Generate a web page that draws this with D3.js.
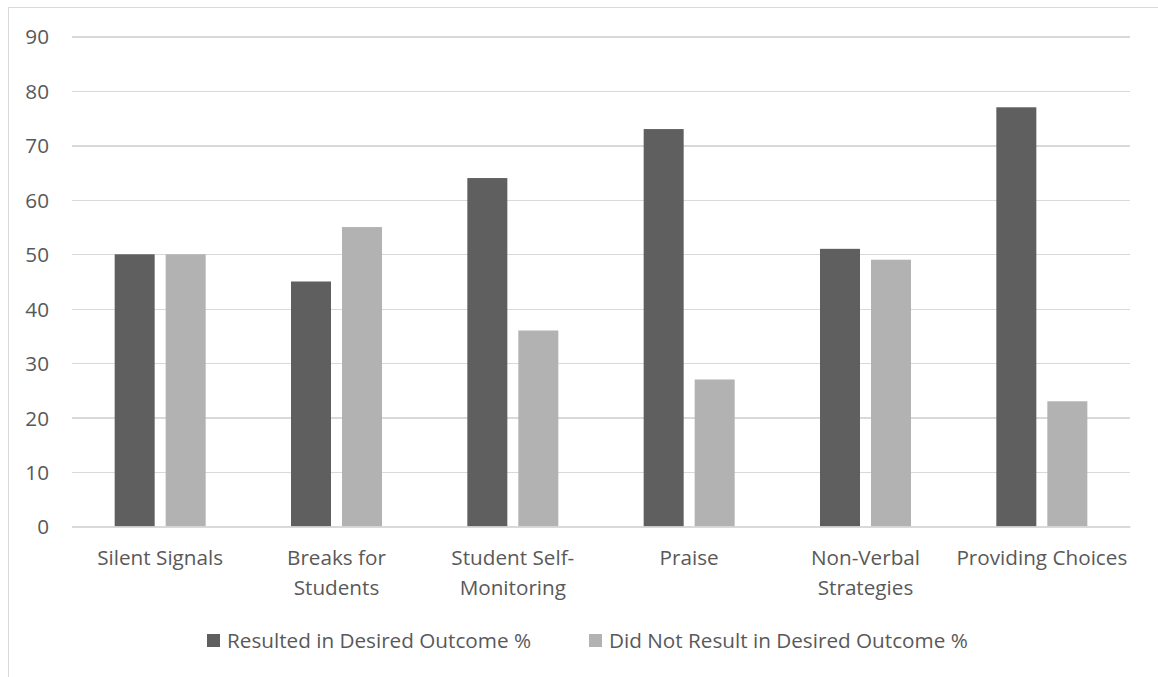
<!DOCTYPE html>
<html>
<head>
<meta charset="utf-8">
<script src="https://cdn.jsdelivr.net/npm/d3@7"></script>
<style>
  html, body { margin: 0; padding: 0; background: #fff; }
  svg { display: block; }
  text { font-family: "Open Sans", sans-serif; fill: #595959; }
</style>
</head>
<body>
<svg id="chart" width="1158" height="677"></svg>
<script>
const categories = ["Silent Signals", "Breaks for Students", "Student Self-Monitoring", "Praise", "Non-Verbal Strategies", "Providing Choices"];
const categoryLines = [["Silent Signals"], ["Breaks for", "Students"], ["Student Self-", "Monitoring"], ["Praise"], ["Non-Verbal", "Strategies"], ["Providing Choices"]];
const seriesNames = ["Resulted in Desired Outcome %", "Did Not Result in Desired Outcome %"];
const resulted = [50, 45, 64, 73, 51, 77];
const notResulted = [50, 55, 36, 27, 49, 23];
const yTicks = [0, 10, 20, 30, 40, 50, 60, 70, 80, 90];
const colors = ["#5f5f5f", "#b2b2b2"];

const svg = d3.select("#chart");
const fs = 20.7;

// outer chart border
svg.append("rect")
  .attr("x", 8.5).attr("y", 7.5)
  .attr("width", 1200).attr("height", 720)
  .attr("fill", "none").attr("stroke", "#d9d9d9").attr("stroke-width", 1);

const plotL = 72, plotR = 1130;
const y = d3.scaleLinear().domain([0, 90]).range([526.5, 36.5]);
const x0 = d3.scaleBand().domain(categories).range([plotL, plotR]).paddingInner(0).paddingOuter(0);
const x1 = d3.scaleBand().domain(seriesNames).range([0, 91]).paddingInner(11 / 51).paddingOuter(0);

// gridlines
const yAxis = d3.axisLeft(y).tickValues(yTicks).tickSize(-(plotR - plotL)).tickPadding(23);
const gy = svg.append("g").attr("transform", `translate(${plotL},0)`).call(yAxis);
gy.select(".domain").remove();
gy.selectAll(".tick line").attr("stroke", "#d9d9d9").attr("stroke-width", 1.3)
  .attr("shape-rendering", "crispEdges");
gy.selectAll(".tick text").attr("font-size", fs).attr("fill", "#595959")
  .style("font-family", "'Open Sans', sans-serif").attr("dy", "0.36em");

// bars
const data = categories.map((c, i) => ({ cat: c, vals: [resulted[i], notResulted[i]] }));
const groups = svg.append("g").selectAll("g").data(data).join("g")
  .attr("transform", d => `translate(${x0(d.cat) + x0.bandwidth() / 2 - 45.5},0)`);
groups.selectAll("rect").data(d => d.vals.map((v, j) => ({ s: seriesNames[j], v, j })))
  .join("rect")
  .attr("x", d => x1(d.s))
  .attr("width", x1.bandwidth())
  .attr("y", d => y(d.v))
  .attr("height", d => y(0) - y(d.v))
  .attr("fill", d => colors[d.j]);

// x axis
const xAxis = d3.axisBottom(x0).tickSize(0).tickFormat("");
const gx = svg.append("g").attr("transform", `translate(0,${y(0)})`).call(xAxis);
gx.select(".domain").attr("stroke", "#d9d9d9").attr("stroke-width", 1.3);

const labelG = svg.append("g");
categories.forEach((c, i) => {
  const t = labelG.append("text")
    .attr("text-anchor", "middle")
    .attr("font-size", fs)
    .attr("x", x0(c) + x0.bandwidth() / 2)
    .attr("y", 565);
  categoryLines[i].forEach((ln, k) => {
    t.append("tspan").attr("x", x0(c) + x0.bandwidth() / 2).attr("y", 565 + k * 30).text(ln);
  });
});

// legend
const legendX = [207, 589];
seriesNames.forEach((s, j) => {
  const g = svg.append("g").attr("transform", `translate(${legendX[j]},0)`);
  g.append("rect").attr("x", 0).attr("y", 634).attr("width", 13).attr("height", 13).attr("fill", colors[j]);
  g.append("text").attr("x", 20).attr("y", 648).attr("font-size", fs).text(s);
});
</script>
</body>
</html>
